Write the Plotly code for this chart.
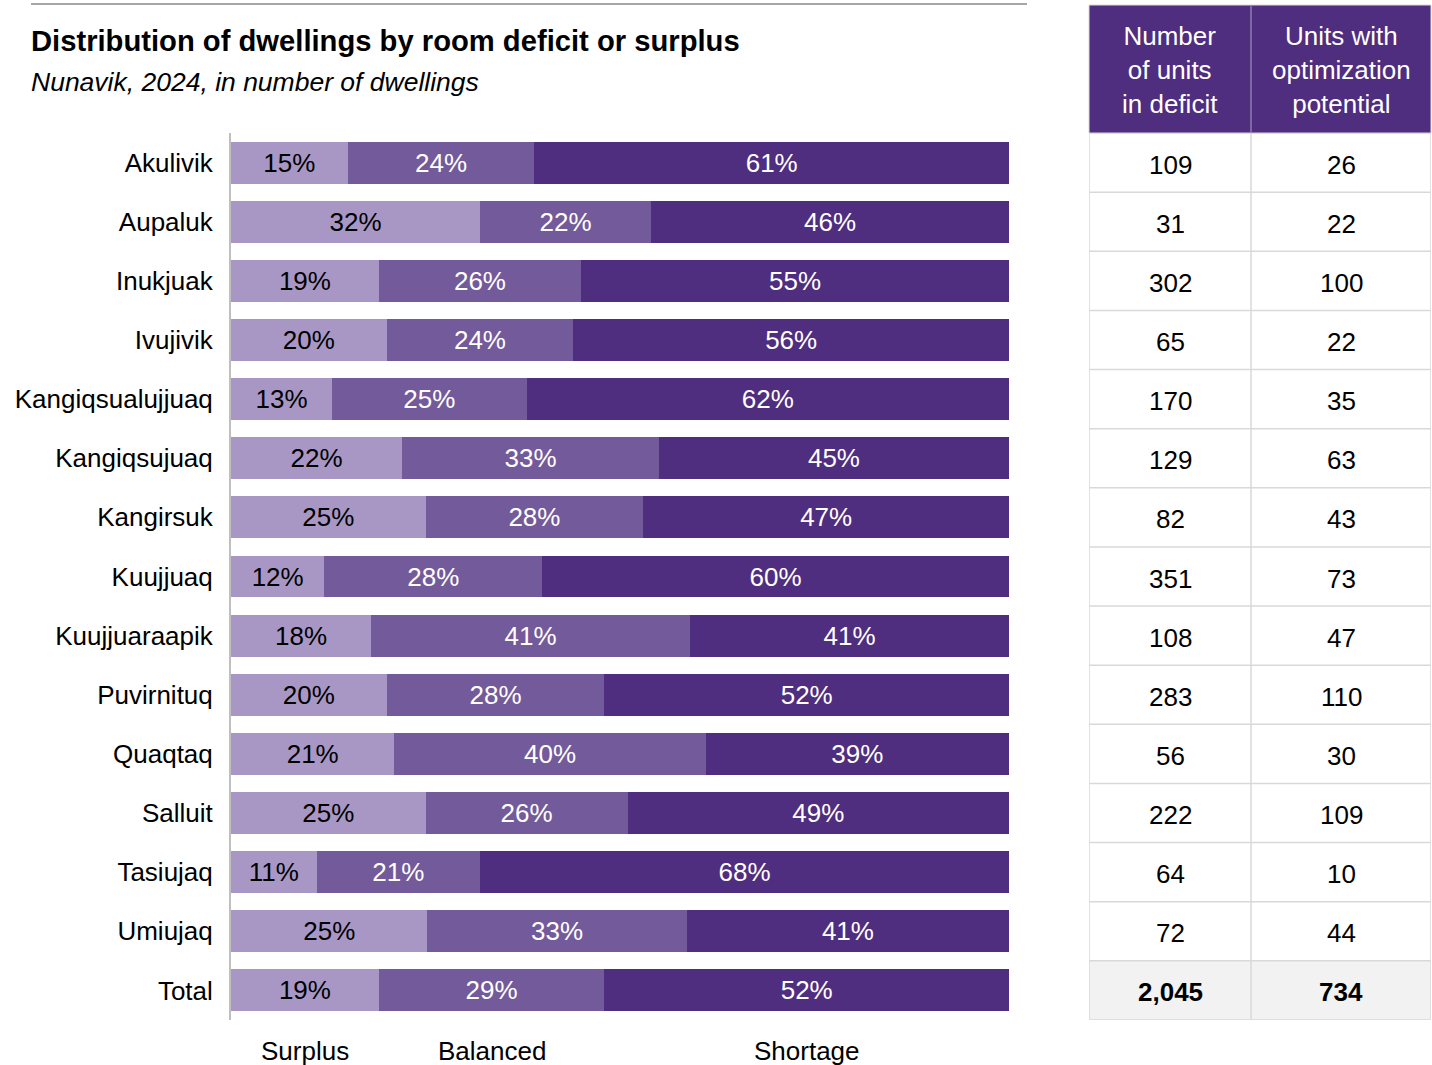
import plotly.graph_objects as go

communities = ["Akulivik", "Aupaluk", "Inukjuak", "Ivujivik", "Kangiqsualujjuaq",
               "Kangiqsujuaq", "Kangirsuk", "Kuujjuaq", "Kuujjuaraapik", "Puvirnituq",
               "Quaqtaq", "Salluit", "Tasiujaq", "Umiujaq", "Total"]
surplus = [15, 32, 19, 20, 13, 22, 25, 12, 18, 20, 21, 25, 11, 25, 19]
balanced = [24, 22, 26, 24, 25, 33, 28, 28, 41, 28, 40, 26, 21, 33, 29]
shortage = [61, 46, 55, 56, 62, 45, 47, 60, 41, 52, 39, 49, 68, 41, 52]
units_deficit = ["109", "31", "302", "65", "170", "129", "82", "351", "108", "283",
                 "56", "222", "64", "72", "2,045"]
units_optim = ["26", "22", "100", "22", "35", "63", "43", "73", "47", "110",
               "30", "109", "10", "44", "734"]
series_names = ["Surplus", "Balanced", "Shortage"]
table_headers = ["Number<br>of units<br>in deficit", "Units with<br>optimization<br>potential"]
column_widths = [162, 180]

FONT = "Liberation Sans, Arial, sans-serif"
C_LIGHT, C_MID, C_DARK = "#A897C5", "#735A9A", "#4F2D7F"
GRID = "#D9D9D9"

W, H = 1432, 1065
ML, MR, MT, MB = 231, 0, 5, 45
plot_w = W - ML - MR
plot_h = H - MT - MB
bars_right = 1009
rows_top = 133
table_left, table_right = 1089, 1431


def px_x(px):
    return (px - ML) / plot_w


def px_y(py):
    return 1 - (py - MT) / plot_h


fig = go.Figure()
for name, vals, col, tcol in [("Surplus", surplus, C_LIGHT, "#000000"),
                              ("Balanced", balanced, C_MID, "#FFFFFF"),
                              ("Shortage", shortage, C_DARK, "#FFFFFF")]:
    fig.add_trace(go.Bar(
        y=communities, x=vals, orientation="h", name=name,
        marker=dict(color=col, line=dict(width=0)),
        text=[f"{v}%" for v in vals], textposition="inside",
        insidetextanchor="middle", textangle=0,
        textfont=dict(family=FONT, size=26, color=tcol),
        hoverinfo="skip", showlegend=False,
    ))

n = len(communities)
tab_w = sum(column_widths)
col_centers = [column_widths[0] / 2, column_widths[0] + column_widths[1] / 2]

annotations = []
# Side table body: values placed on the same category rows as the bars
for center, vals in zip(col_centers, [units_deficit, units_optim]):
    for i, (cat, v) in enumerate(zip(communities, vals)):
        label = f"<b>{v}</b>" if i == n - 1 else v
        annotations.append(dict(
            x=center, y=cat, xref="x2", yref="y", text=label, showarrow=False,
            xanchor="center", yanchor="middle", yshift=-2,
            font=dict(family=FONT, size=26, color="#000000"),
        ))

shapes = []
# Total row shading
shapes.append(dict(type="rect", xref="x2", yref="y", x0=0, x1=tab_w,
                   y0=n - 1.5, y1=n - 0.5, fillcolor="#F2F2F2", line=dict(width=0),
                   layer="below"))
# Row separators
for k in range(n + 1):
    shapes.append(dict(type="line", xref="x2", yref="y", x0=0, x1=tab_w,
                       y0=k - 0.5, y1=k - 0.5, line=dict(color=GRID, width=1.5)))
# Column borders in the body
for xv in [0, column_widths[0], tab_w]:
    shapes.append(dict(type="line", xref="x2", yref="y", x0=xv, x1=xv,
                       y0=-0.5, y1=n - 0.5, line=dict(color=GRID, width=1.5)))
# Header block
shapes.append(dict(type="rect", xref="paper", yref="paper",
                   x0=px_x(table_left), x1=px_x(table_right),
                   y0=px_y(rows_top), y1=px_y(MT),
                   fillcolor=C_DARK, line=dict(color=GRID, width=1)))
shapes.append(dict(type="line", xref="paper", yref="paper",
                   x0=px_x(table_left + column_widths[0]), x1=px_x(table_left + column_widths[0]),
                   y0=px_y(rows_top), y1=px_y(MT), line=dict(color="#8E7DB0", width=1.5)))
# Rule above the title
shapes.append(dict(type="line", xref="paper", yref="paper",
                   x0=px_x(31), x1=px_x(1027), y0=px_y(4), y1=px_y(4),
                   line=dict(color="#A6A6A6", width=2)))

for center, head in zip(col_centers, table_headers):
    annotations.append(dict(
        x=px_x(table_left + center), y=px_y((MT + rows_top) / 2 + 1), xref="paper", yref="paper",
        text=head, showarrow=False, align="center", xanchor="center", yanchor="middle",
        font=dict(family=FONT, size=26, color="#FFFFFF"),
    ))

# Category names under the Total bar segments
tot = [surplus[-1], balanced[-1], shortage[-1]]
cum = 0
for name, v in zip(series_names, tot):
    annotations.append(dict(
        x=(cum + v / 2) / sum(tot) * 100, y=px_y(1051),
        xref="x", yref="paper", text=name, showarrow=False,
        font=dict(family=FONT, size=26, color="#000000"), xanchor="center", yanchor="middle",
    ))
    cum += v

annotations += [
    dict(x=px_x(29), y=px_y(41), xref="paper", yref="paper",
         text="<b>Distribution of dwellings by room deficit or surplus</b>", showarrow=False,
         xanchor="left", yanchor="middle", font=dict(family=FONT, size=29.2, color="#000000")),
    dict(x=px_x(29), y=px_y(82), xref="paper", yref="paper",
         text="<i>Nunavik, 2024, in number of dwellings</i>", showarrow=False,
         xanchor="left", yanchor="middle", font=dict(family=FONT, size=26.5, color="#000000")),
]

fig.update_layout(
    width=W, height=H, barmode="stack", barnorm="percent", bargap=0.29,
    margin=dict(l=ML, r=MR, t=MT, b=MB, pad=0),
    paper_bgcolor="#FFFFFF", plot_bgcolor="#FFFFFF",
    font=dict(family=FONT, size=26, color="#000000"),
    xaxis=dict(domain=[0, px_x(bars_right)], range=[0, 100], visible=False,
               fixedrange=True),
    xaxis2=dict(domain=[px_x(table_left), px_x(table_right)], range=[0, tab_w],
                anchor="y", visible=False, fixedrange=True),
    yaxis=dict(domain=[0, px_y(rows_top)], range=[n - 0.5, -0.5], autorange=False,
               type="category", categoryorder="array", categoryarray=communities,
               showline=True, linecolor="#BFBFBF", linewidth=2, showgrid=False,
               zeroline=False, ticks="", ticklabelstandoff=11,
               tickfont=dict(family=FONT, size=26, color="#000000"),
               fixedrange=True),
    annotations=annotations,
    shapes=shapes,
)

fig.write_html("out.html")
